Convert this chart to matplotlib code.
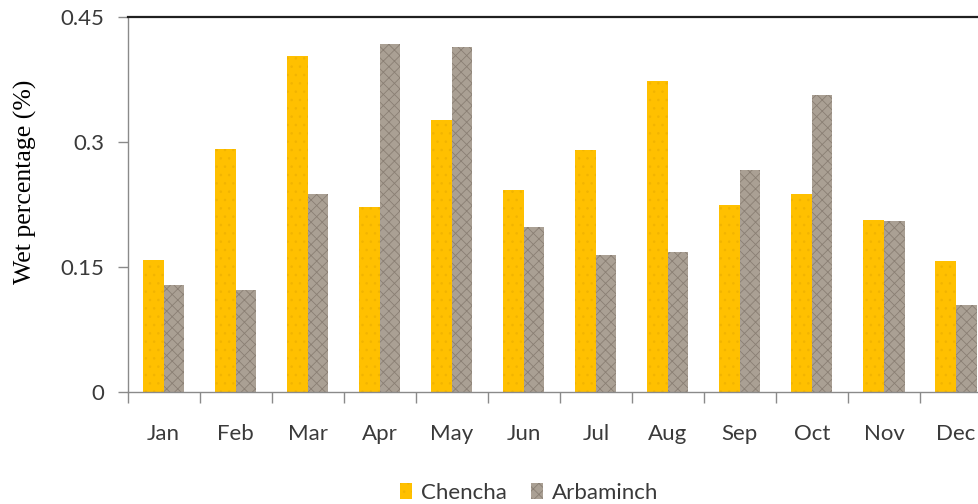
"""Wet percentage per month, Chencha vs Arbaminch."""

import matplotlib

matplotlib.use("Agg")
import matplotlib.pyplot as plt
import numpy as np

months = ["Jan", "Feb", "Mar", "Apr", "May", "Jun",
          "Jul", "Aug", "Sep", "Oct", "Nov", "Dec"]
chencha = [0.159, 0.292, 0.403, 0.222, 0.327, 0.242,
           0.290, 0.373, 0.225, 0.238, 0.207, 0.157]
arbaminch = [0.129, 0.122, 0.238, 0.418, 0.414, 0.198,
             0.164, 0.168, 0.266, 0.356, 0.205, 0.105]
yticks = [0, 0.15, 0.3, 0.45]
ytick_labels = ["0", "0.15", "0.3", "0.45"]

YELLOW = "#FFC000"
GRANITE = "#aaa094"
TICK_GREY = "#8a8a8a"
TEXT_GREY = "#3a3a3a"

plt.rcParams["hatch.linewidth"] = 0.6

fig = plt.figure(figsize=(9.79, 5.04), dpi=100)
ax = fig.add_axes([0.1304, 0.2222, 0.8829, 0.7440])

x = np.arange(len(months))
w = 0.285
ax.bar(x - w / 2, chencha, width=w, color=YELLOW, edgecolor="#f2b400",
       linewidth=0, hatch="..", label="Chencha")
ax.bar(x + w / 2, arbaminch, width=w, color=GRANITE, edgecolor="#8a7f74",
       linewidth=0, hatch="xxx", label="Arbaminch")

ax.set_xlim(-0.5, len(months) - 0.5)
ax.set_ylim(0, 0.45)

ax.set_yticks(yticks)
ax.set_yticklabels(ytick_labels)
ax.set_xticks(x)
ax.set_xticklabels(months)
ax.set_xticks(np.arange(len(months) + 1) - 0.5, minor=True)

ax.tick_params(axis="y", which="major", length=7, width=1, color=TICK_GREY,
               labelsize=16, labelcolor=TEXT_GREY, pad=10)
ax.tick_params(axis="x", which="major", length=0, labelsize=16,
               labelcolor=TEXT_GREY, pad=23)
ax.tick_params(axis="x", which="minor", length=8, width=1, color=TICK_GREY)
for lab in ax.get_xticklabels() + ax.get_yticklabels():
    lab.set_family("Lato")

for side in ("left", "bottom"):
    ax.spines[side].set_color(TICK_GREY)
    ax.spines[side].set_linewidth(1)
ax.spines["top"].set_color("#202020")
ax.spines["top"].set_linewidth(1.6)
ax.spines["right"].set_visible(False)

ax.set_ylabel("Wet percentage (%)", family="Liberation Serif", fontsize=18.5,
              color="black")
ax.yaxis.set_label_coords(-0.105, 0.56)

leg = fig.legend(loc="center", bbox_to_anchor=(529 / 979, 1 - 493 / 504),
                 ncol=2, frameon=False, prop={"family": "Lato", "size": 16},
                 handlelength=0.55, handleheight=0.7, handletextpad=0.4,
                 columnspacing=1.1, labelcolor=TEXT_GREY)

fig.savefig("out.png", dpi=100)
